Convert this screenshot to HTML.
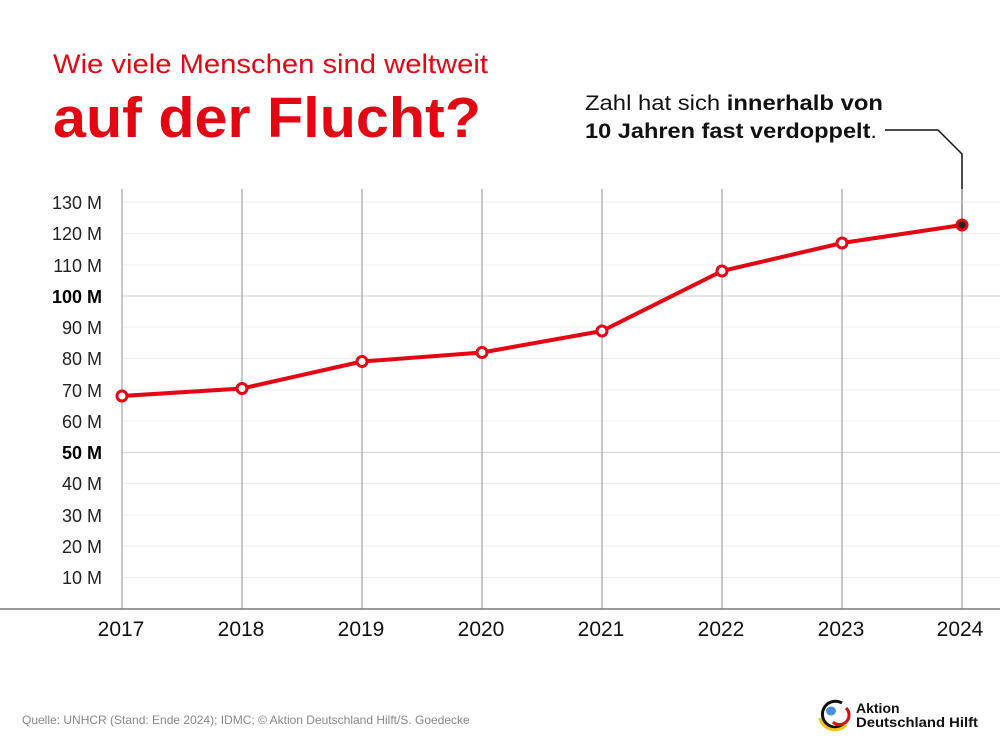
<!DOCTYPE html>
<html><head><meta charset="utf-8"><style>
body{margin:0;background:#fff;}
svg{display:block;font-family:"Liberation Sans","DejaVu Sans",sans-serif;}
</style></head><body>
<svg width="1000" height="750" viewBox="0 0 1000 750" xmlns="http://www.w3.org/2000/svg">
<rect width="1000" height="750" fill="#fff"/>
<text x="53" y="73" font-size="27" fill="#e30613" textLength="435" lengthAdjust="spacingAndGlyphs">Wie viele Menschen sind weltweit</text>
<text x="53" y="137" font-size="57" font-weight="bold" fill="#e30613" textLength="428" lengthAdjust="spacingAndGlyphs">auf der Flucht?</text>
<text x="585" y="110" font-size="21" fill="#111" textLength="298" lengthAdjust="spacingAndGlyphs">Zahl hat sich <tspan font-weight="bold">innerhalb von</tspan></text>
<text x="585" y="138" font-size="21" fill="#111" textLength="292" lengthAdjust="spacingAndGlyphs"><tspan font-weight="bold">10 Jahren fast verdoppelt</tspan>.</text>
<polyline points="885,130 938,130 962,154 962,224" fill="none" stroke="#111" stroke-width="1.5"/>
<g stroke="#ececec" stroke-width="1">
<line x1="122" x2="1000" y1="202" y2="202"/><line x1="122" x2="1000" y1="233.5" y2="233.5"/>
<line x1="122" x2="1000" y1="265" y2="265"/><line x1="122" x2="1000" y1="327" y2="327"/>
<line x1="122" x2="1000" y1="358.5" y2="358.5"/><line x1="122" x2="1000" y1="390" y2="390"/>
<line x1="122" x2="1000" y1="421" y2="421"/><line x1="122" x2="1000" y1="483.5" y2="483.5"/>
<line x1="122" x2="1000" y1="515" y2="515"/><line x1="122" x2="1000" y1="546" y2="546"/>
<line x1="122" x2="1000" y1="577.5" y2="577.5"/>
</g>
<g stroke="#d8d8d8" stroke-width="1.2">
<line x1="122" x2="1000" y1="296" y2="296"/><line x1="122" x2="1000" y1="452.5" y2="452.5"/>
</g>
<g stroke="#b5b5b5" stroke-width="1.5">
<line x1="122" x2="122" y1="189" y2="609"/><line x1="242" x2="242" y1="189" y2="609"/>
<line x1="362" x2="362" y1="189" y2="609"/><line x1="482" x2="482" y1="189" y2="609"/>
<line x1="602" x2="602" y1="189" y2="609"/><line x1="722" x2="722" y1="189" y2="609"/>
<line x1="842" x2="842" y1="189" y2="609"/><line x1="962" x2="962" y1="189" y2="609"/>
</g>
<line x1="0" x2="1000" y1="609" y2="609" stroke="#777" stroke-width="1.5"/>
<g font-size="18" fill="#222" text-anchor="end">
<text x="102" y="209">130 M</text><text x="102" y="240">120 M</text><text x="102" y="272">110 M</text>
<text x="102" y="303" font-weight="bold" fill="#000">100 M</text>
<text x="102" y="334">90 M</text><text x="102" y="365">80 M</text><text x="102" y="397">70 M</text>
<text x="102" y="428">60 M</text>
<text x="102" y="459" font-weight="bold" fill="#000">50 M</text>
<text x="102" y="490">40 M</text><text x="102" y="522">30 M</text><text x="102" y="553">20 M</text>
<text x="102" y="584">10 M</text>
</g>
<g font-size="21" fill="#111" text-anchor="middle">
<text x="121" y="636">2017</text><text x="241" y="636">2018</text><text x="361" y="636">2019</text>
<text x="481" y="636">2020</text><text x="601" y="636">2021</text><text x="721" y="636">2022</text>
<text x="841" y="636">2023</text><text x="960" y="636">2024</text>
</g>
<polyline points="122,396 242,388.5 362,361.5 482,352.5 602,331 722,271 842,243 962,225" fill="none" stroke="#e30613" stroke-width="4" stroke-linejoin="round"/>
<g fill="#fff" stroke="#e30613" stroke-width="3">
<circle cx="122" cy="396" r="5"/><circle cx="242" cy="388.5" r="5"/><circle cx="362" cy="361.5" r="5"/>
<circle cx="482" cy="352.5" r="5"/><circle cx="602" cy="331" r="5"/><circle cx="722" cy="271" r="5"/>
<circle cx="842" cy="243" r="5"/>
</g>
<circle cx="962" cy="225" r="5" fill="#222" stroke="#e30613" stroke-width="3"/>
<text x="22" y="724" font-size="12" fill="#888">Quelle: UNHCR (Stand: Ende 2024); IDMC; © Aktion Deutschland Hilft/S. Goedecke</text>
<g>
<path d="M842,703 A13,13 0 1 0 844,724" fill="none" stroke="#111" stroke-width="3"/>
<path d="M846,708 A9,9 0 1 1 833,722" fill="none" stroke="#e30613" stroke-width="3"/>
<path d="M820,718 A15,14 0 0 0 846,725" fill="none" stroke="#f5c400" stroke-width="3"/>
<ellipse cx="831" cy="711" rx="5" ry="4.5" fill="#4a90d9"/>
</g>
<text x="856" y="713" font-size="14" font-weight="bold" fill="#111">Aktion</text>
<text x="856" y="727" font-size="14" font-weight="bold" fill="#111" textLength="122" lengthAdjust="spacingAndGlyphs">Deutschland Hilft</text>
</svg>
</body></html>
